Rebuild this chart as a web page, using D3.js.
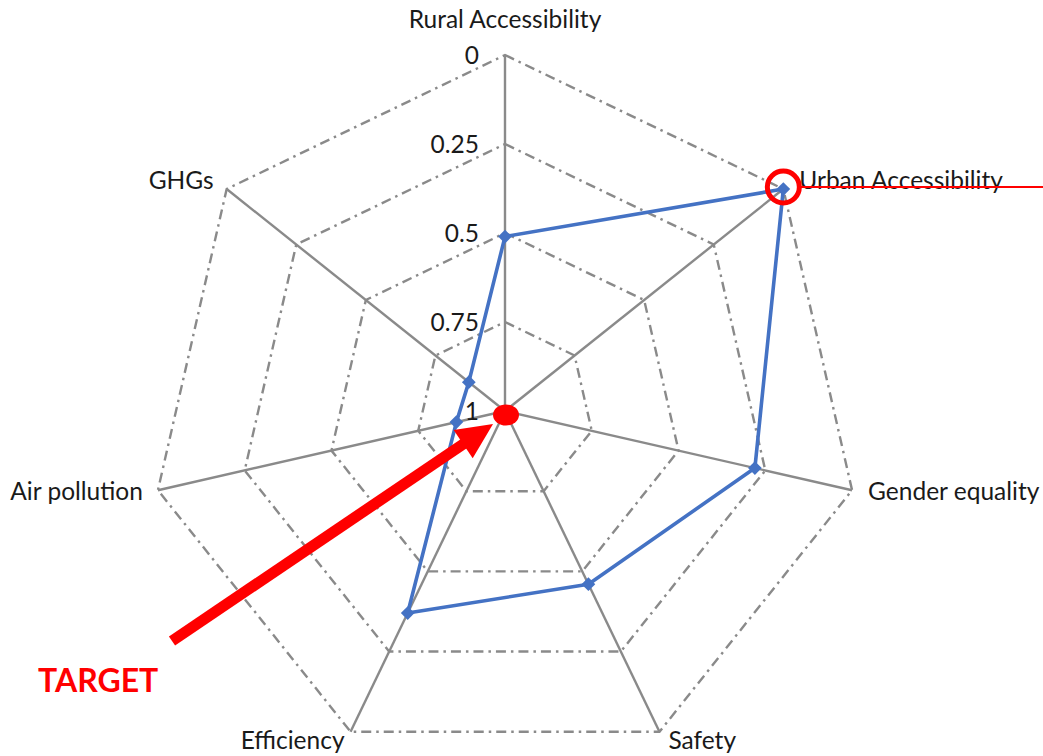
<!DOCTYPE html>
<html>
<head>
<meta charset="utf-8">
<script src="https://cdn.jsdelivr.net/npm/d3@7"></script>
<style>
  html, body { margin: 0; padding: 0; background: #fff; }
  svg { display: block; }
  text { font-family: Lato, "Open Sans", sans-serif; }
</style>
</head>
<body>
<svg id="chart" width="1043" height="756"></svg>
<script>
const categories = ["Rural Accessibility", "Urban Accessibility", "Gender equality", "Safety", "Efficiency", "Air pollution", "GHGs"];
const values = [0.51, 0.0, 0.28, 0.46, 0.37, 0.86, 0.87];
const tickValues = [0, 0.25, 0.5, 0.75, 1];
const tickLabels = ["0", "0.25", "0.5", "0.75", "1"];
const targetValue = 1;
const highlightIndex = 1;

const svg = d3.select("#chart");
const cx = 505, cy = 411, R = 356;
const r = d3.scaleLinear().domain([0, 1]).range([R, 0]);
const angle = d3.scaleLinear().domain([0, categories.length]).range([0, 2 * Math.PI]);
const pt = (i, v) => [cx + r(v) * Math.sin(angle(i)), cy - r(v) * Math.cos(angle(i))];

const g = svg.append("g");
const FS = 24.5;

// grid polygons (dash-dot)
tickValues.filter(t => t < 1).forEach(t => {
  g.append("path")
    .attr("d", d3.line()(categories.map((c, i) => pt(i, t))) + "Z")
    .attr("fill", "none")
    .attr("stroke", "#8a8a8a")
    .attr("stroke-width", 2.4)
    .attr("stroke-dasharray", "10,5,2.5,5");
});

// axes
categories.forEach((c, i) => {
  const [x, y] = pt(i, 0);
  g.append("line")
    .attr("x1", cx).attr("y1", cy).attr("x2", x).attr("y2", y)
    .attr("stroke", "#8a8a8a").attr("stroke-width", 2.4);
});

// tick labels
tickValues.forEach((t, k) => {
  g.append("text")
    .attr("x", cx - 26)
    .attr("y", cy - r(t))
    .attr("dy", "0.35em")
    .attr("text-anchor", "end")
    .attr("font-size", FS)
    .attr("fill", "#1a1a1a")
    .text(tickLabels[k]);
});

// category labels
const labelPos = [
  {dx: 0, dy: -27, anchor: "middle"},
  {dx: 16, dy: 0, anchor: "start"},
  {dx: 16, dy: 10, anchor: "start"},
  {dx: 9, dy: 17, anchor: "start"},
  {dx: -6, dy: 17, anchor: "end"},
  {dx: -15, dy: 10, anchor: "end"},
  {dx: -13, dy: 0, anchor: "end"}
];
categories.forEach((c, i) => {
  const [x, y] = pt(i, 0);
  g.append("text")
    .attr("x", x + labelPos[i].dx)
    .attr("y", y + labelPos[i].dy)
    .attr("text-anchor", labelPos[i].anchor)
    .attr("font-size", FS)
    .attr("fill", "#1a1a1a")
    .text(c);
});

// series line
g.append("path")
  .attr("d", d3.line()(values.map((v, i) => pt(i, v))) + "Z")
  .attr("fill", "none")
  .attr("stroke", "#4472C4")
  .attr("stroke-width", 3.6)
  .attr("stroke-linejoin", "round");

g.selectAll(".marker")
  .data(values)
  .join("path")
  .attr("class", "marker")
  .attr("d", d3.symbol().type(d3.symbolDiamond2).size(120))
  .attr("transform", (v, i) => `translate(${pt(i, v)})`)
  .attr("fill", "#4472C4");

// annotations
const hp = pt(highlightIndex, values[highlightIndex]);
g.append("line")
  .attr("x1", hp[0] + 17).attr("y1", hp[1] - 2).attr("x2", 1043).attr("y2", hp[1] - 2)
  .attr("stroke", "#ff0000").attr("stroke-width", 2);
g.append("circle")
  .attr("cx", hp[0]).attr("cy", hp[1] - 2).attr("r", 16)
  .attr("fill", "none").attr("stroke", "#ff0000").attr("stroke-width", 5);

const tp = pt(0, targetValue);
g.append("ellipse")
  .attr("cx", tp[0] + 1).attr("cy", tp[1] + 4).attr("rx", 13).attr("ry", 10.5)
  .attr("fill", "#ff0000");

// arrow
const tail = [172, 641], tip = [493, 424];
const ang = Math.atan2(tip[1] - tail[1], tip[0] - tail[0]);
const headLen = 36, headW = 17;
const base = [tip[0] - headLen * Math.cos(ang), tip[1] - headLen * Math.sin(ang)];
g.append("line")
  .attr("x1", tail[0]).attr("y1", tail[1]).attr("x2", base[0] + 2 * Math.cos(ang)).attr("y2", base[1] + 2 * Math.sin(ang))
  .attr("stroke", "#ff0000").attr("stroke-width", 11);
g.append("path")
  .attr("d", d3.line()([
    tip,
    [base[0] + headW * Math.sin(ang), base[1] - headW * Math.cos(ang)],
    [base[0] - headW * Math.sin(ang), base[1] + headW * Math.cos(ang)]
  ]) + "Z")
  .attr("fill", "#ff0000");

g.append("text")
  .attr("x", 38).attr("y", 692)
  .attr("font-size", 32)
  .attr("font-weight", "bold")
  .attr("fill", "#ff0000")
  .text("TARGET");
</script>
</body>
</html>
